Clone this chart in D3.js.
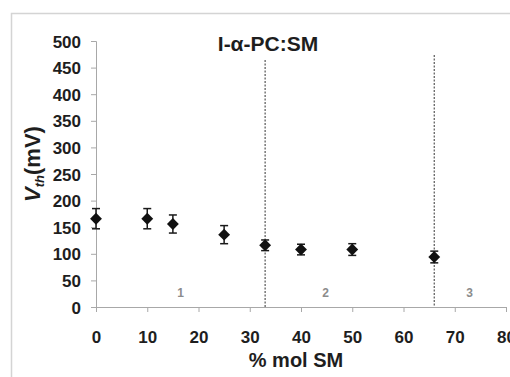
<!DOCTYPE html>
<html>
<head>
<meta charset="utf-8">
<script src="https://cdn.jsdelivr.net/npm/d3@7"></script>
<style>
  body { margin: 0; background: #fff; }
  svg { display: block; font-family: "Liberation Sans", Arial, sans-serif; }
</style>
</head>
<body>
<svg id="chart" width="510" height="377"></svg>
<script>
var molSM = [0, 10, 15, 25, 33, 40, 50, 66];
var vth = [166, 166, 156, 136, 116, 108, 108, 94];
var vthErr = [19, 19, 17, 17, 10, 10, 11, 11];
var xTicks = [0, 10, 20, 30, 40, 50, 60, 70, 80];
var yTicks = [0, 50, 100, 150, 200, 250, 300, 350, 400, 450, 500];
var boundaries = [33, 66];
var regions = [{label: "1", x: 16.5}, {label: "2", x: 44.8}, {label: "3", x: 72.9}];

var svg = d3.select("#chart");

// outer frame
svg.append("rect")
  .attr("x", 11.5).attr("y", 13.5)
  .attr("width", 520).attr("height", 400)
  .attr("fill", "none").attr("stroke", "#d4d4d4").attr("stroke-width", 1.5);

var x = d3.scaleLinear().domain([0, 80]).range([96, 506]);
var y = d3.scaleLinear().domain([0, 500]).range([307, 41]);

var yAxis = svg.append("g")
  .attr("transform", "translate(96,0)")
  .call(d3.axisLeft(y).tickValues(yTicks).tickSize(5).tickPadding(10));

var xAxis = svg.append("g")
  .attr("transform", "translate(0,307)")
  .call(d3.axisBottom(x).tickValues(xTicks).tickSize(5).tickPadding(19));

[xAxis, yAxis].forEach(function(a){
  a.selectAll("path, line").attr("stroke", "#a8a8a8");
  a.selectAll("text")
    .attr("font-size", 17).attr("font-weight", "bold").attr("fill", "#1e1e1e")
    .attr("font-family", "Liberation Sans, Arial, sans-serif");
});
yAxis.selectAll("text").attr("dy", "0.36em");

// phase boundaries
svg.selectAll("line.bound").data(boundaries)
  .enter().append("line").classed("bound", true)
  .attr("x1", function(d){ return x(d); })
  .attr("x2", function(d){ return x(d); })
  .attr("y1", function(d, i){ return i == 0 ? 60 : 55; })
  .attr("y2", y(0))
  .attr("stroke", "#555").attr("stroke-width", 1.2)
  .attr("stroke-dasharray", "2,1.5");

svg.selectAll("text.region").data(regions)
  .enter().append("text").classed("region", true)
  .attr("x", function(d){ return x(d.x); })
  .attr("y", y(26))
  .attr("dy", "0.36em")
  .attr("text-anchor", "middle")
  .attr("font-size", 12).attr("font-weight", "bold").attr("fill", "#8c8c8c")
  .text(function(d){ return d.label; });

// error bars
var pts = molSM.map(function(m, i){ return {x: m, y: vth[i], e: vthErr[i]}; });

var err = svg.append("g").attr("stroke", "#1a1a1a").attr("stroke-width", 1.5);
err.selectAll("line.stem").data(pts).enter().append("line")
  .attr("x1", function(d){ return x(d.x); }).attr("x2", function(d){ return x(d.x); })
  .attr("y1", function(d){ return y(d.y + d.e); }).attr("y2", function(d){ return y(d.y - d.e); });
err.selectAll("line.top").data(pts).enter().append("line")
  .attr("x1", function(d){ return x(d.x) - 4; }).attr("x2", function(d){ return x(d.x) + 4; })
  .attr("y1", function(d){ return y(d.y + d.e); }).attr("y2", function(d){ return y(d.y + d.e); });
err.selectAll("line.bot").data(pts).enter().append("line")
  .attr("x1", function(d){ return x(d.x) - 4; }).attr("x2", function(d){ return x(d.x) + 4; })
  .attr("y1", function(d){ return y(d.y - d.e); }).attr("y2", function(d){ return y(d.y - d.e); });

var diamond = d3.symbol().type(d3.symbolDiamond2 || d3.symbolDiamond).size(90);
svg.selectAll("path.pt").data(pts).enter().append("path").classed("pt", true)
  .attr("d", diamond)
  .attr("transform", function(d){ return "translate(" + x(d.x) + "," + y(d.y) + ")"; })
  .attr("fill", "#111");

// title and axis labels
svg.append("text")
  .attr("x", 268).attr("y", 51)
  .attr("text-anchor", "middle")
  .attr("font-size", 21).attr("font-weight", "bold").attr("fill", "#1e1e1e")
  .text("I-α-PC:SM");

svg.append("text")
  .attr("x", 296).attr("y", 367)
  .attr("text-anchor", "middle")
  .attr("font-size", 20).attr("font-weight", "bold").attr("fill", "#1e1e1e")
  .text("% mol SM");

var yl = svg.append("text")
  .attr("transform", "translate(40,164) rotate(-90)")
  .attr("text-anchor", "middle")
  .attr("font-size", 22).attr("font-weight", "bold").attr("fill", "#1e1e1e");
yl.append("tspan").attr("font-style", "italic").text("V");
yl.append("tspan").attr("font-style", "italic").attr("font-size", 13).attr("dy", 4).text("th");
yl.append("tspan").attr("dy", -4).text("(mV)");
</script>
</body>
</html>
